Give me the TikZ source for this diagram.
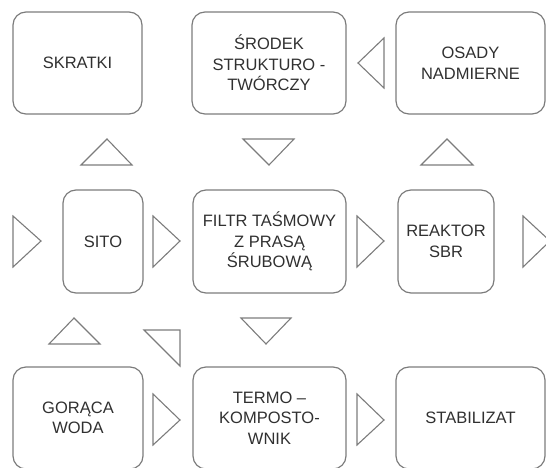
\documentclass[tikz,border=0pt]{standalone}
\usepackage{fontspec}
\setmainfont{Liberation Sans}
\definecolor{linegray}{HTML}{7C7C7C}
\definecolor{textgray}{HTML}{303030}
\begin{document}
\begin{tikzpicture}[x=1pt, y=-1pt,
  box/.style={draw=linegray, line width=1.2pt, rounded corners=13pt, align=center,
    text=textgray, inner sep=0pt, font=\fontsize{16.5}{20.5}\selectfont},
  tri/.style={draw=linegray, line width=1.1pt, line join=miter}]

\useasboundingbox (0,0) rectangle (546,468);

\node[box, minimum width=129pt, minimum height=102pt] (skratki) at (77.5,63) {SKRATKI};
\node[box, minimum width=154pt, minimum height=102pt] (srodek) at (269,63) {ŚRODEK\\STRUKTURO -\\TWÓRCZY};
\node[box, minimum width=149pt, minimum height=102pt] (osady) at (470.5,63) {OSADY\\NADMIERNE};

\node[box, minimum width=80pt, minimum height=103pt] (sito) at (103,241.5) {SITO};
\node[box, minimum width=153pt, minimum height=103pt] (filtr) at (269.5,241.5) {FILTR TAŚMOWY\\Z PRASĄ\\ŚRUBOWĄ};
\node[box, minimum width=96pt, minimum height=103pt] (reaktor) at (446,241.5) {REAKTOR\\SBR};

\node[box, minimum width=130pt, minimum height=102pt] (goraca) at (78,418) {GORĄCA\\WODA};
\node[box, minimum width=153pt, minimum height=102pt] (termo) at (269.5,418) {TERMO –\\KOMPOSTO-\\WNIK};
\node[box, minimum width=149pt, minimum height=102pt] (stabilizat) at (470.5,418) {STABILIZAT};

\draw[tri] (384,38) -- (384,88) -- (358,63) -- cycle;

\draw[tri] (81,165) -- (132,165) -- (107,139) -- cycle;
\draw[tri] (243,139) -- (294,139) -- (269,165) -- cycle;
\draw[tri] (421,165) -- (473,165) -- (447,139) -- cycle;

\draw[tri] (13,216) -- (13,267) -- (41,241) -- cycle;
\draw[tri] (153,216) -- (153,267) -- (180,241) -- cycle;
\draw[tri] (357,216) -- (357,267) -- (384,241) -- cycle;
\draw[tri] (523,216) -- (523,267) -- (550,241) -- cycle;

\draw[tri] (49,344) -- (100,344) -- (74,318) -- cycle;
\draw[tri] (144,330) -- (180,330) -- (180,366) -- cycle;
\draw[tri] (241,318) -- (291,318) -- (266,344) -- cycle;

\draw[tri] (153,394) -- (153,445) -- (180,420) -- cycle;
\draw[tri] (357,394) -- (357,445) -- (384,420) -- cycle;
\end{tikzpicture}
\end{document}
